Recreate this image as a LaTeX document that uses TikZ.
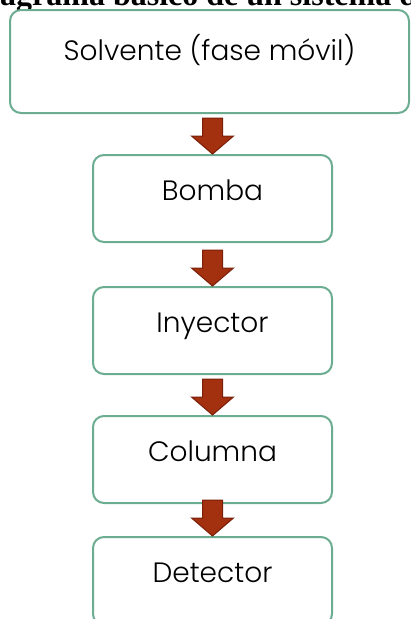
\documentclass[tikz,border=0pt]{standalone}
\usepackage{fontspec}
\usetikzlibrary{calc}
\newfontfamily\boxfont{Poppins Light}
\newfontfamily\titlefont{Liberation Serif}
\definecolor{boxgreen}{RGB}{108,173,146}
\definecolor{arrowfill}{RGB}{163,48,15}
\definecolor{arrowdraw}{RGB}{122,31,8}
\tikzset{
  stagebox/.style={draw=boxgreen, line width=2pt, rounded corners=11pt, fill=white,
    inner sep=0pt, anchor=base, align=center, text height=45pt,
    font=\boxfont\fontsize{28}{32}\selectfont},
  blockarrow/.style={fill=arrowfill, draw=arrowdraw, line width=1pt, line join=miter}
}
\newcommand\downarrowto[1]{%
  \draw[blockarrow] ($(#1.north)+(-10pt,36pt)$) -- ($(#1.north)+(-10pt,18pt)$)
    -- ($(#1.north)+(-21pt,18pt)$) -- (#1.north) -- ($(#1.north)+(21pt,18pt)$)
    -- ($(#1.north)+(10pt,18pt)$) -- ($(#1.north)+(10pt,36pt)$) -- cycle;}
\begin{document}
\begin{tikzpicture}[x=1pt,y=-1pt]
\useasboundingbox (0,0) rectangle (411,619);
\clip (0,0) rectangle (411,619);
\node[anchor=base west, inner sep=0pt, font=\titlefont\bfseries\fontsize{32}{36}\selectfont] (title) at (0,5) {agrama básico de un sistema d};
\node[stagebox, minimum width=399pt, text height=50pt, text depth=53pt] (solvente) at (209.5,60) {Solvente (fase móvil)};
\node[stagebox, minimum width=239pt, text depth=42pt] (bomba) at (212.5,200) {Bomba};
\node[stagebox, minimum width=239pt, text depth=42pt] (inyector) at (212.5,332) {Inyector};
\node[stagebox, minimum width=239pt, text depth=42pt] (columna) at (212.5,461) {Columna};
\node[stagebox, minimum width=239pt, text depth=43pt] (detector) at (212.5,582) {Detector};
\downarrowto{bomba}
\downarrowto{inyector}
\downarrowto{columna}
\downarrowto{detector}
\end{tikzpicture}
\end{document}
